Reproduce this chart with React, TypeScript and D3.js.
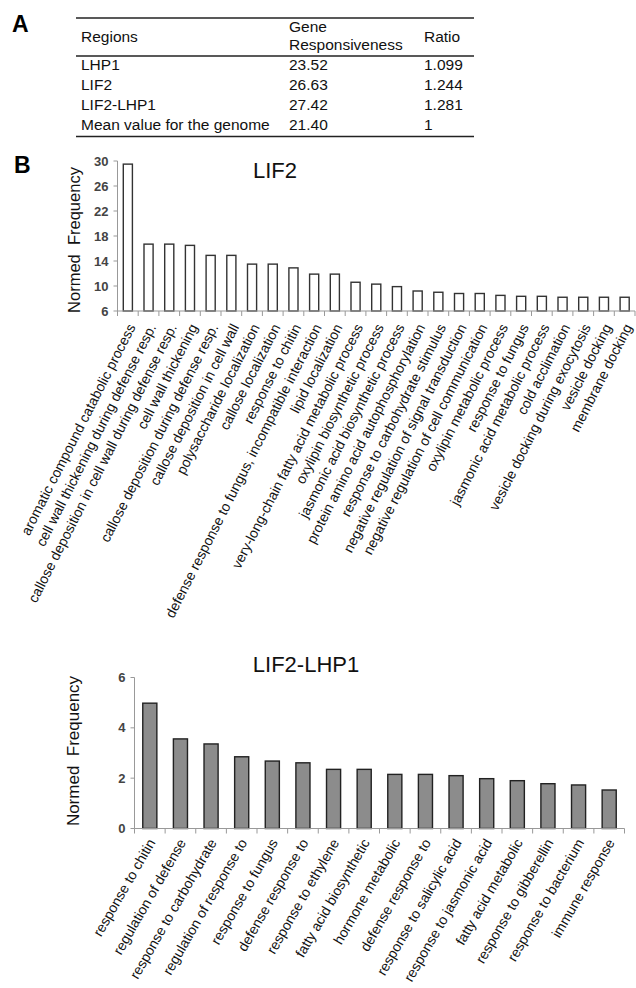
import React from "react";
import * as d3 from "d3";

// ---- Table A data ----
const tableRegions = ["LHP1", "LIF2", "LIF2-LHP1", "Mean value for the genome"];
const tableResponsiveness = ["23.52", "26.63", "27.42", "21.40"];
const tableRatio = ["1.099", "1.244", "1.281", "1"];

// ---- Chart B (LIF2) ----
const lif2Categories = [
  "aromatic compound catabolic process",
  "cell wall thickening during defense resp.",
  "callose deposition in cell wall during defense resp.",
  "cell wall thickening",
  "callose deposition during defense resp.",
  "callose deposition in cell wall",
  "polysaccharide localization",
  "callose localization",
  "response to chitin",
  "defense response to fungus, incompatible interaction",
  "lipid localization",
  "very-long-chain fatty acid metabolic process",
  "oxylipin biosynthetic process",
  "jasmonic acid biosynthetic process",
  "protein amino acid autophosphorylation",
  "response to carbohydrate stimulus",
  "negative regulation of signal transduction",
  "negative regulation of cell communication",
  "oxylipin metabolic process",
  "response to fungus",
  "jasmonic acid metabolic process",
  "cold acclimation",
  "vesicle docking during exocytosis",
  "vesicle docking",
  "membrane docking",
];
const lif2Values = [
  29.5, 16.7, 16.7, 16.5, 14.9, 14.9, 13.5, 13.5, 12.9, 11.9, 11.9, 10.6, 10.3,
  9.9, 9.2, 9.0, 8.8, 8.8, 8.5, 8.35, 8.35, 8.2, 8.2, 8.2, 8.2,
];
const lif2Ticks = [6, 10, 14, 18, 22, 26, 30];

// ---- Chart B (LIF2-LHP1) ----
const lhpCategories = [
  "response to chitin",
  "regulation of defense",
  "response to carbohydrate",
  "regulation of response to",
  "response to fungus",
  "defense response to",
  "response to ethylene",
  "fatty acid biosynthetic",
  "hormone metabolic",
  "defense response to ",
  "response to salicylic acid",
  "response to jasmonic acid",
  "fatty acid metabolic",
  "response to gibberellin",
  "response to bacterium",
  "immune response",
];
const lhpValues = [
  4.98, 3.56, 3.36, 2.85, 2.68, 2.61, 2.35, 2.35, 2.15, 2.15, 2.1, 1.98, 1.9,
  1.78, 1.73, 1.53,
];
const lhpTicks = [0, 2, 4, 6];

const FONT = "'Liberation Sans', Arial, Helvetica, sans-serif";

type ChartProps = {
  cats: string[];
  vals: number[];
  ticks: number[];
  x0: number;
  x1: number;
  yDomain: [number, number];
  yRange: [number, number];
  padding: number;
  barFill: string;
  barStroke: string;
  labelSize: number;
  labelDx: number;
  labelDy: number;
  labelAngle: number;
  title: string;
  titleX: number;
  titleY: number;
  yLabelX: number;
  yLabelY: number;
  yLabelSize: number;
};

function BarChart(p: ChartProps) {
  const x = d3
    .scaleBand<string>()
    .domain(p.cats)
    .range([p.x0, p.x1])
    .paddingInner(p.padding)
    .paddingOuter(p.padding / 2);
  const y = d3.scaleLinear().domain(p.yDomain).range(p.yRange);
  const step = x.step();
  const gap = (step - x.bandwidth()) / 2;
  const baseY = y(p.yDomain[0]);
  const bounds = p.cats.map((c) => (x(c) as number) - gap);
  bounds.push(p.x1);
  return (
    <g>
      <text
        x={p.titleX}
        y={p.titleY}
        textAnchor="middle"
        fontFamily={FONT}
        fontSize={22}
        fill="#111"
      >
        {p.title}
      </text>
      <text
        transform={`translate(${p.yLabelX},${p.yLabelY}) rotate(-90)`}
        textAnchor="middle"
        fontFamily={FONT}
        fontSize={p.yLabelSize}
        fill="#111"
        style={{ whiteSpace: "pre" }}
      >
        {"Normed  Frequency"}
      </text>
      <line x1={p.x0} x2={p.x0} y1={p.yRange[1]} y2={baseY} stroke="#999" strokeWidth={1} />
      {p.ticks.map((t) => (
        <g key={t}>
          <line x1={p.x0 - 4} x2={p.x0} y1={y(t)} y2={y(t)} stroke="#999" strokeWidth={1} />
          <text
            x={p.x0 - 9}
            y={y(t)}
            dy="0.35em"
            textAnchor="end"
            fontFamily={FONT}
            fontSize={13}
            fontWeight="bold"
            fill="#444"
          >
            {t}
          </text>
        </g>
      ))}
      {p.cats.map((c, i) => (
        <rect
          key={c}
          x={x(c)}
          y={y(p.vals[i])}
          width={x.bandwidth()}
          height={baseY - y(p.vals[i])}
          fill={p.barFill}
          stroke={p.barStroke}
          strokeWidth={1.4}
        />
      ))}
      <line x1={p.x0} x2={p.x1} y1={baseY} y2={baseY} stroke="#999" strokeWidth={1} />
      {bounds.map((b, i) => (
        <line key={i} x1={b} x2={b} y1={baseY} y2={baseY + 5} stroke="#999" strokeWidth={1} />
      ))}
      {p.cats.map((c) => {
        const cx = (x(c) as number) + x.bandwidth() / 2;
        return (
          <text
            key={c}
            transform={`translate(${cx + p.labelDx},${baseY + p.labelDy}) rotate(${p.labelAngle})`}
            textAnchor="end"
            fontFamily={FONT}
            fontSize={p.labelSize}
            fill="#111"
          >
            {c.trim()}
          </text>
        );
      })}
    </g>
  );
}

export default function App() {
  const tX0 = 76;
  const tX1 = 474;
  const colX = [81, 289, 424];
  const rowY = d3.scaleLinear().domain([0, 1]).range([70, 90]);
  return (
    <svg
      width={636}
      height={988}
      style={{ position: "absolute", left: 0, top: 0, background: "#fff" }}
    >
      <rect width={636} height={988} fill="#fff" />
      <text x={12} y={32} fontFamily={FONT} fontWeight="bold" fontSize={23} fill="#000">
        A
      </text>
      <line x1={tX0} x2={tX1} y1={18} y2={18} stroke="#222" strokeWidth={1.5} />
      <line x1={tX0} x2={tX1} y1={56} y2={56} stroke="#222" strokeWidth={1.5} />
      <line x1={tX0} x2={tX1} y1={136.5} y2={136.5} stroke="#222" strokeWidth={1.5} />
      <g fontFamily={FONT} fontSize={15.5} fill="#111">
        <text x={colX[0]} y={42}>Regions</text>
        <text x={colX[1]} y={32}>Gene</text>
        <text x={colX[1]} y={50}>Responsiveness</text>
        <text x={colX[2]} y={42}>Ratio</text>
        {tableRegions.map((r, i) => (
          <g key={r}>
            <text x={colX[0]} y={rowY(i)}>{r}</text>
            <text x={colX[1]} y={rowY(i)}>{tableResponsiveness[i]}</text>
            <text x={colX[2]} y={rowY(i)}>{tableRatio[i]}</text>
          </g>
        ))}
      </g>

      <text x={14} y={173} fontFamily={FONT} fontWeight="bold" fontSize={23} fill="#000">
        B
      </text>
      <BarChart
        cats={lif2Categories}
        vals={lif2Values}
        ticks={lif2Ticks}
        x0={117.5}
        x1={635}
        yDomain={[6, 30]}
        yRange={[311, 161]}
        padding={0.56}
        barFill="#fff"
        barStroke="#333"
        labelSize={14}
        labelDx={8}
        labelDy={16}
        labelAngle={-63}
        title="LIF2"
        titleX={275}
        titleY={178}
        yLabelX={80}
        yLabelY={240}
        yLabelSize={16.5}
      />
      <BarChart
        cats={lhpCategories}
        vals={lhpValues}
        ticks={lhpTicks}
        x0={134.5}
        x1={624.5}
        yDomain={[0, 6]}
        yRange={[828.5, 677.5]}
        padding={0.54}
        barFill="#8c8c8c"
        barStroke="#222"
        labelSize={14}
        labelDx={6}
        labelDy={14}
        labelAngle={-60}
        title="LIF2-LHP1"
        titleX={306}
        titleY={672}
        yLabelX={79}
        yLabelY={751}
        yLabelSize={17}
      />
    </svg>
  );
}
